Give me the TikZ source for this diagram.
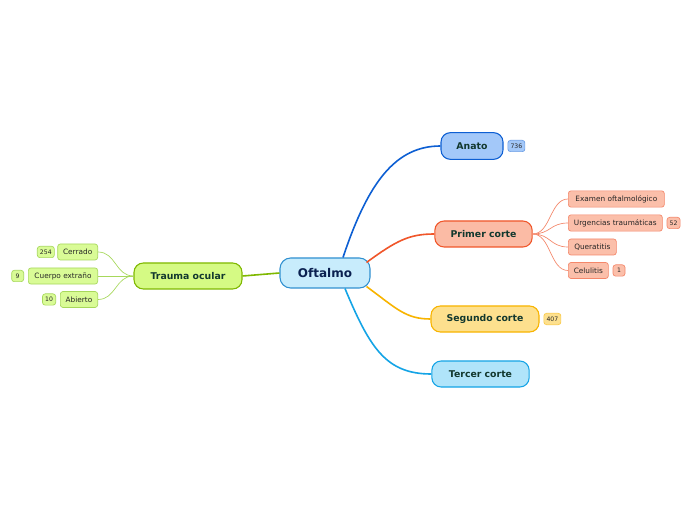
\documentclass[tikz,border=0pt]{standalone}
\usepackage{fontspec}
\setmainfont{DejaVu Sans}
\usetikzlibrary{positioning}
\definecolor{roottext}{HTML}{0A2050}
\definecolor{topictext}{HTML}{12382E}
\definecolor{rootfill}{HTML}{C8ECFC}
\definecolor{rootline}{HTML}{3090D0}
\definecolor{anatofill}{HTML}{A3C8F9}
\definecolor{anatoline}{HTML}{0D5FD3}
\definecolor{primerfill}{HTML}{FBBBA5}
\definecolor{primerline}{HTML}{F0562A}
\definecolor{segfill}{HTML}{FDE08E}
\definecolor{segline}{HTML}{F8B400}
\definecolor{tercfill}{HTML}{B0E4FA}
\definecolor{tercline}{HTML}{14A4E6}
\definecolor{traufill}{HTML}{D5FA84}
\definecolor{trauline}{HTML}{7FB800}
\definecolor{psubfill}{HTML}{FBBFAA}
\definecolor{psubline}{HTML}{F4876A}
\definecolor{tsubfill}{HTML}{D9FB96}
\definecolor{tsubline}{HTML}{A7D85B}

\begin{document}
\begin{tikzpicture}[x=0.75pt, y=-0.75pt]
  \tikzstyle{root}=[rectangle, rounded corners=8pt, minimum width=67.5pt,
                   minimum height=22.5pt, line width=0.8pt, draw=rootline, fill=rootfill,
                   font=\fontsize{9}{10}\selectfont\bfseries\color{roottext}, text centered]
  \tikzstyle{topic}=[rectangle, rounded corners=7pt, minimum height=19.5pt,
                   line width=0.8pt, font=\fontsize{7}{8}\selectfont\bfseries\color{topictext},
                   text centered]
  \tikzstyle{sub}=[rectangle, rounded corners=2pt, minimum height=12pt, inner xsep=2pt,
                   line width=0.5pt, font=\fontsize{5.5}{6}\selectfont\color{black!85},
                   text centered]
  \tikzstyle{badge}=[rectangle, rounded corners=2pt, minimum height=8.5pt, minimum width=9pt,
                   inner xsep=2pt, inner ysep=0pt, line width=0.5pt,
                   font=\fontsize{4.6}{5}\selectfont\color{black!85}]
  \tikzstyle{branch}=[line width=1.2pt]
  \tikzstyle{twig}=[line width=0.5pt]

  \fill[white](0,0) rectangle (696,520);

  \node[root](root) at (325,273){Oftalmo};

  \node[topic, draw=anatoline, fill=anatofill, minimum width=46.5pt, minimum height=20pt](anato) at (472,146){Anato};
  \node[badge, draw=anatoline!60, fill=anatofill, right=3pt of anato](anatob){736};
  \node[topic, draw=primerline, fill=primerfill, minimum width=73pt](primer) at (483.5,234){Primer corte};
  \node[topic, draw=segline, fill=segfill, minimum width=81pt](segundo) at (485,319){Segundo corte};
  \node[badge, draw=segline!70, fill=segfill, right=3pt of segundo](segundob){407};
  \node[topic, draw=tercline, fill=tercfill, minimum width=73pt](tercer) at (480.5,374){Tercer corte};
  \node[topic, draw=trauline, fill=traufill, minimum width=81pt](trauma) at (188,276){Trauma ocular};

  % Primer corte
  \node[sub, draw=psubline, fill=psubfill, anchor=west, minimum width=72pt](exam) at (568,199){Examen oftalmológico};
  \node[sub, draw=psubline, fill=psubfill, anchor=west, minimum width=70.5pt](urg) at (568,223){Urgencias traumáticas};
  \node[badge, draw=psubline, fill=psubfill, right=3pt of urg](urgb){52};
  \node[sub, draw=psubline, fill=psubfill, anchor=west, minimum width=36pt](quer) at (568,247){Queratitis};
  \node[sub, draw=psubline, fill=psubfill, anchor=west, minimum width=30pt](celu) at (568,270.5){Celulitis};
  \node[badge, draw=psubline, fill=psubfill, right=3pt of celu](celub){1};

  % Trauma ocular
  \node[sub, draw=tsubline, fill=tsubfill, anchor=east, minimum width=30pt](cerr) at (98,252){Cerrado};
  \node[badge, draw=tsubline, fill=tsubfill, left=2pt of cerr](cerrb){254};
  \node[sub, draw=tsubline, fill=tsubfill, anchor=east, minimum width=52pt](cuer) at (98,276){Cuerpo extraño};
  \node[badge, draw=tsubline, fill=tsubfill, left=3pt of cuer](cuerb){9};
  \node[sub, draw=tsubline, fill=tsubfill, anchor=east, minimum width=28pt](abie) at (98,299.5){Abierto};
  \node[badge, draw=tsubline, fill=tsubfill, left=3pt of abie](abieb){10};

  \draw[branch, anatoline]([shift={(18,0)}]root.north) .. controls +(25,-75) and +(-45,0) .. (anato.west);
  \draw[branch, primerline]([shift={(-4,5)}]root.north east) .. controls +(30,-22) and +(-25,0) .. (primer.west);
  \draw[branch, segline]([shift={(-4,-2)}]root.south east) .. controls +(30,22) and +(-25,0) .. (segundo.west);
  \draw[branch, tercline]([shift={(20,0)}]root.south) .. controls +(25,60) and +(-45,0) .. (tercer.west);
  \draw[branch, trauline](root.west) -- (trauma.east);

  \foreach \s in {exam, urg, quer, celu}
    \draw[twig, psubline](primer.east) .. controls +(18,0) and +(-18,0) .. (\s.west);
  \foreach \s in {cerr, cuer, abie}
    \draw[twig, tsubline](trauma.west) .. controls +(-18,0) and +(18,0) .. (\s.east);
\end{tikzpicture}
\end{document}
